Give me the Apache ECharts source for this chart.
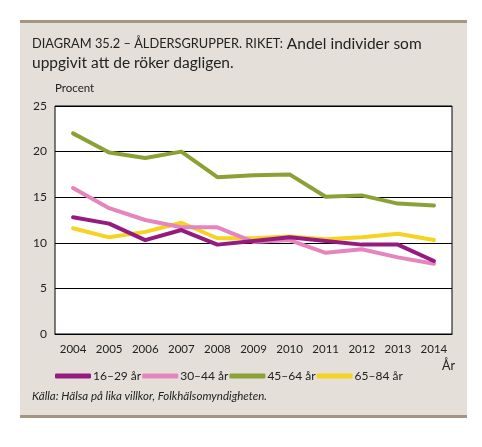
<!DOCTYPE html>
<html lang="sv">
<head>
<meta charset="UTF-8">
<title>Diagram 35.2</title>
<script src="https://cdn.jsdelivr.net/npm/echarts@6/dist/echarts.min.js"></script>
<style>
  html, body { margin: 0; padding: 0; background: #fff; }
  #chart { width: 482px; height: 447px; }
</style>
</head>
<body>
<div id="chart"></div>
<script>
// data
var years = ['2004', '2005', '2006', '2007', '2008', '2009', '2010', '2011', '2012', '2013', '2014'];
var age16_29 = [12.8, 12.1, 10.3, 11.4, 9.8, 10.2, 10.6, 10.2, 9.8, 9.8, 8.0];
var age30_44 = [16.0, 13.8, 12.5, 11.7, 11.7, 10.1, 10.3, 8.9, 9.3, 8.4, 7.7];
var age45_64 = [22.0, 19.9, 19.3, 20.0, 17.2, 17.4, 17.5, 15.05, 15.2, 14.3, 14.1];
var age65_84 = [11.6, 10.6, 11.2, 12.2, 10.5, 10.5, 10.7, 10.4, 10.6, 11.0, 10.3];
var seriesNames = ['16–29 år', '30–44 år', '45–64 år', '65–84 år'];
var seriesColors = ['#951b81', '#e585bd', '#8ba136', '#f6d320'];

var chart = echarts.init(document.getElementById('chart'));
var font = 'Lato, "Open Sans", sans-serif';

function line(name, data, color, z) {
    return {
        name: name,
        type: 'line',
        data: data,
        showSymbol: false,
        symbol: 'none',
        z: z,
        lineStyle: { width: 4, color: color, cap: 'round', join: 'round' },
        itemStyle: { color: color }
    };
}

var option = {
    backgroundColor: '#ffffff',
    animation: false,
    textStyle: { fontFamily: font },
    graphic: [
        { type: 'rect', z: -10, shape: { x: 20, y: 21, width: 447, height: 396 }, style: { fill: '#e4e0d9' } },
        { type: 'rect', z: -9, shape: { x: 20, y: 20, width: 447, height: 3 }, style: { fill: '#a69584' } },
        { type: 'rect', z: -9, shape: { x: 20, y: 415, width: 447, height: 3 }, style: { fill: '#a69584' } },
        {
            type: 'text', left: 32, top: 34,
            style: {
                text: '{c|DIAGRAM 35.2 – ÅLDERSGRUPPER. RIKET:} Andel individer som\nuppgivit att de röker dagligen.',
                fontFamily: font, fontSize: 15.5, lineHeight: 19, fill: '#222',
                rich: { c: { fontSize: 12.8, fontFamily: font, fill: '#222' } }
            }
        },
        { type: 'text', left: 55, top: 82, style: { text: 'Procent', fontFamily: font, fontSize: 11.5, fill: '#222' } },
        { type: 'text', left: 442, top: 359, style: { text: 'År', fontFamily: font, fontSize: 12.5, fill: '#222' } },
        {
            type: 'text', left: 32, top: 390,
            style: { text: 'Källa: Hälsa på lika villkor, Folkhälsomyndigheten.', fontFamily: font, fontStyle: 'italic', fontSize: 11.5, fill: '#222' }
        }
    ],
    legend: {
        left: 50, top: 365,
        itemWidth: 36, itemHeight: 5, itemGap: 1,
        icon: 'roundRect',
        textStyle: { fontFamily: font, fontSize: 12, color: '#222', padding: [0, 0, 0, -3] },
        data: seriesNames
    },
    grid: {
        left: 55, right: 30, top: 106, bottom: 113,
        show: true, backgroundColor: '#ffffff', borderColor: '#000', borderWidth: 1
    },
    xAxis: {
        type: 'category',
        data: years,
        boundaryGap: true,
        axisLine: { lineStyle: { color: '#000' } },
        axisTick: { show: false },
        axisLabel: { color: '#222', fontSize: 11.5, margin: 9, fontFamily: font, interval: 0 }
    },
    yAxis: {
        type: 'value',
        min: 0, max: 25, interval: 5,
        axisLine: { show: false },
        axisTick: { show: false },
        axisLabel: { color: '#222', fontSize: 12, margin: 8, fontFamily: font },
        splitLine: { lineStyle: { color: '#000', width: 1 } }
    },
    series: [
        line(seriesNames[0], age16_29, seriesColors[0], 5),
        line(seriesNames[1], age30_44, seriesColors[1], 3),
        line(seriesNames[2], age45_64, seriesColors[2], 2),
        line(seriesNames[3], age65_84, seriesColors[3], 1)
    ]
};

chart.setOption(option);
</script>
</body>
</html>
